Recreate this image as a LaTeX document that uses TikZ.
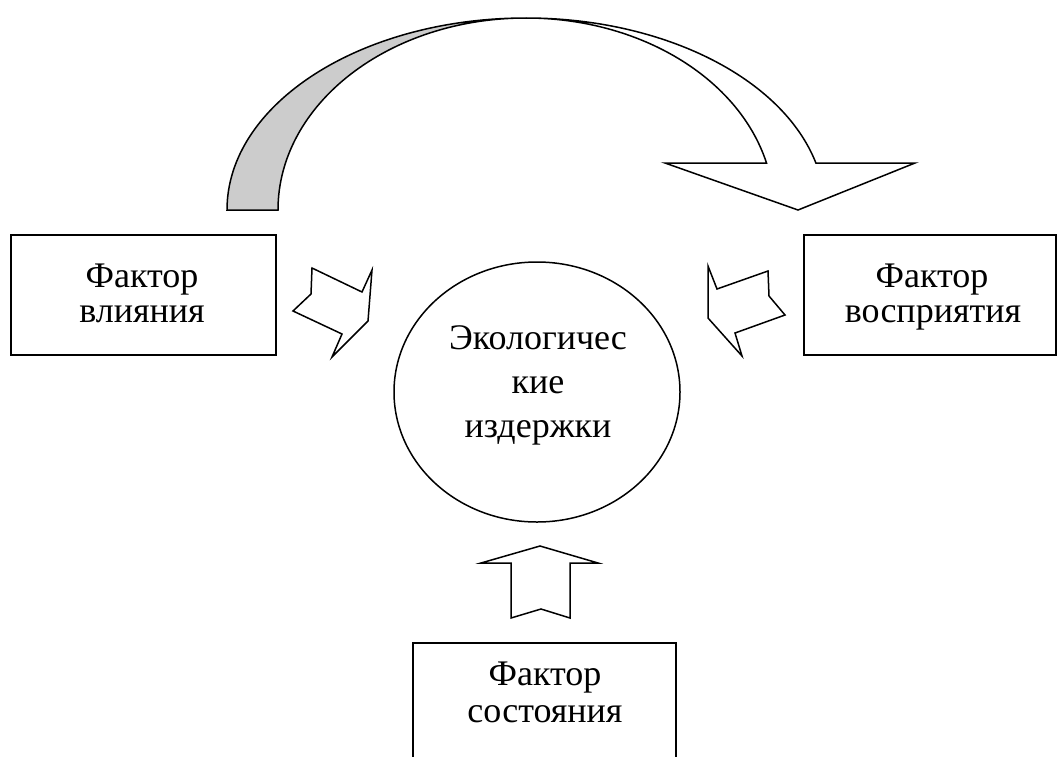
\documentclass[tikz,border=0pt]{standalone}
\usepackage{fontspec}
\setmainfont{Liberation Serif}
\usetikzlibrary{shapes.geometric}
\definecolor{bandgray}{HTML}{CCCCCC}
\begin{document}
\begin{tikzpicture}[x=1pt,y=-1pt,
  outline/.style={draw=black, line width=1.5pt, line join=miter, fill=white},
  fbox/.style={draw=black, line width=1.6pt, rectangle, anchor=north west, inner sep=0pt},
  lbl/.style={font=\fontsize{36}{40}\selectfont, anchor=base, inner sep=0pt}]
\path[use as bounding box] (0,0) rectangle (1057,756);
\clip (0,0) rectangle (1057,756);

% boxes
\node[fbox, minimum width=265pt, minimum height=120pt] (infl) at (10,234) {};
\node[fbox, minimum width=252pt, minimum height=120pt] (perc) at (803,234) {};
\node[fbox, minimum width=263pt, minimum height=140pt] (state) at (412,642) {};
\node[draw=black, ellipse, line width=1.5pt, minimum width=286pt, minimum height=260pt, inner sep=0pt] (cost) at (537,392) {};

% texts
\node[lbl] (infl1) at (142,287) {Фактор};
\node[lbl] (infl2) at (142,322) {влияния};
\node[lbl] (perc1) at (932,287) {Фактор};
\node[lbl] (perc2) at (933,322) {восприятия};
\node[lbl] (state1) at (545,685) {Фактор};
\node[lbl] (state2) at (545,722) {состояния};
\node[lbl] (cost1) at (538,349) {Экологичес};
\node[lbl] (cost2) at (538,393) {кие};
\node[lbl] (cost3) at (538,437) {издержки};

% block arrows
\draw[outline] (312,268) -- (362,292) -- (372,270) -- (368,321) -- (332,357) -- (342,334) -- (293,311) -- (311,294) -- cycle;
\draw[outline] (708,266) -- (717,289) -- (768,271) -- (769,296) -- (785,315) -- (735,333) -- (742,356) -- (708,318) -- cycle;
\draw[outline] (481,563) -- (540,546) -- (598,563) -- (570,563) -- (570,618) -- (541,609) -- (511,618) -- (511,563) -- cycle;

% curved arrow
\filldraw[outline, fill=bandgray] (227,210) arc[start angle=180, end angle=270, x radius=299, y radius=192]
  arc[start angle=270, end angle=180, x radius=248, y radius=192] -- cycle;
\filldraw[outline] (526,18) arc[start angle=270, end angle=345.83, x radius=299, y radius=192]
  -- (915,163) -- (798,210) -- (665,163) -- (766.5,163)
  arc[start angle=345.83, end angle=270, x radius=248, y radius=192] -- cycle;
\end{tikzpicture}
\end{document}
